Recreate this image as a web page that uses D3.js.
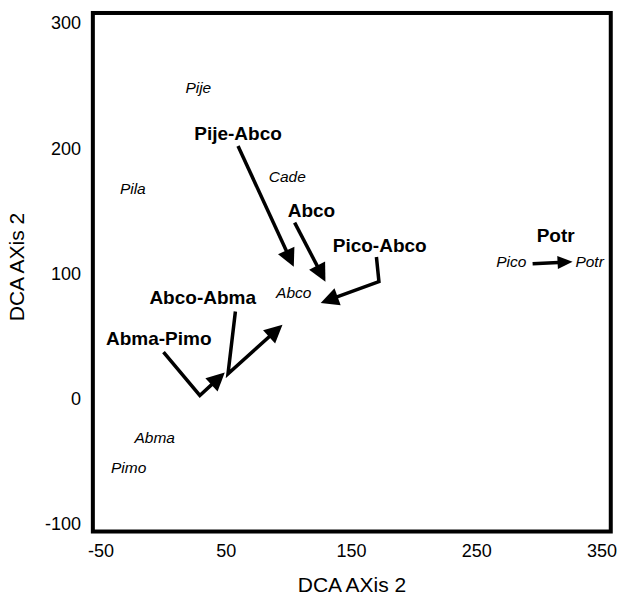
<!DOCTYPE html>
<html>
<head>
<meta charset="utf-8">
<script src="https://cdn.jsdelivr.net/npm/d3@7"></script>
<style>
  body { margin: 0; background: #fff; }
  text { font-family: "Liberation Sans", Arial, sans-serif; fill: #000; }
</style>
</head>
<body>
<svg id="chart"></svg>
<script>
var width = 617;
var height = 596;

// tick labels
var xTicks = [-50, 50, 150, 250, 350];
var yTicks = [-100, 0, 100, 200, 300];

// plot frame extent (data units)
var xFrame = [-56.5, 357];
var yFrame = [-106, 308];

// bold stand-type labels: name, x, y
var typeNames = ["Pije-Abco", "Abco", "Pico-Abco", "Potr", "Abco-Abma", "Abma-Pimo"];
var typeX = [59.4, 118, 172.5, 313, 31.2, -3.9];
var typeY = [206.6, 145.4, 117.2, 125.2, 75.7, 43];

// italic species labels
var speciesNames = ["Pije", "Cade", "Pila", "Abco", "Pico", "Potr", "Abma", "Pimo"];
var speciesX = [27.7, 98.7, -24.6, 103.9, 277.6, 340.1, -7.1, -27.9];
var speciesY = [244.1, 173.3, 163.5, 80.3, 105.5, 105.5, -35.2, -59.1];

// successional trajectories (last point is the arrow tip)
var arrowNames = ["Pije-Abco", "Abco", "Pico-Abco", "Abco-Abma", "Abma-Pimo", "Potr"];
var arrowPaths = [
    [[59.4, 201.8], [103.9, 105.3]],
    [[104.6, 140.6], [129.2, 93.5]],
    [[169.9, 113.2], [171.9, 93.5], [125.4, 76.5]],
    [[57.3, 69.6], [51.4, 19.9], [94.9, 59.0]],
    [[-0.1, 37.2], [28.9, 2.6], [48.8, 20.9]],
    [[294.6, 107.7], [326.5, 109.3]]
];

var x = d3.scaleLinear().domain([-50, 350]).range([101, 602]);
var y = d3.scaleLinear().domain([-100, 300]).range([524, 23]);

var svg = d3.select("#chart")
    .attr("width", width)
    .attr("height", height);

// frame
svg.append("rect")
    .attr("x", x(xFrame[0]))
    .attr("y", y(yFrame[1]))
    .attr("width", x(xFrame[1]) - x(xFrame[0]))
    .attr("height", y(yFrame[0]) - y(yFrame[1]))
    .attr("fill", "none")
    .attr("stroke", "#000")
    .attr("stroke-width", 4);

// x tick labels
svg.selectAll(".xtick")
    .data(xTicks)
    .enter().append("text")
    .attr("class", "xtick")
    .attr("x", function (d) { return x(d); })
    .attr("y", 557)
    .attr("text-anchor", "middle")
    .attr("font-size", "18px")
    .text(function (d) { return d; });

// y tick labels
svg.selectAll(".ytick")
    .data(yTicks)
    .enter().append("text")
    .attr("class", "ytick")
    .attr("x", 81)
    .attr("y", function (d) { return y(d); })
    .attr("dy", "0.35em")
    .attr("text-anchor", "end")
    .attr("font-size", "18px")
    .text(function (d) { return d; });

// axis titles
svg.append("text")
    .attr("x", 352)
    .attr("y", 592)
    .attr("text-anchor", "middle")
    .attr("font-size", "21px")
    .text("DCA AXis 2");

svg.append("text")
    .attr("transform", "translate(24,267) rotate(-90)")
    .attr("text-anchor", "middle")
    .attr("font-size", "21px")
    .text("DCA AXis 2");

// arrows
var line = d3.line()
    .x(function (d) { return d[0]; })
    .y(function (d) { return d[1]; });

arrowPaths.forEach(function (pts, i) {
    var px = pts.map(function (p) { return [x(p[0]), y(p[1])]; });
    var n = px.length;
    var tip = px[n - 1];
    var prev = px[n - 2];
    var dx = tip[0] - prev[0];
    var dy = tip[1] - prev[1];
    var len = Math.sqrt(dx * dx + dy * dy);
    var ux = dx / len, uy = dy / len;
    var headLen = arrowNames[i] === "Potr" ? 15 : 18;
    var headW = arrowNames[i] === "Potr" ? 13 : 18;
    var base = [tip[0] - ux * headLen, tip[1] - uy * headLen];
    var linePts = px.slice(0, n - 1).concat([[tip[0] - ux * headLen * 0.6, tip[1] - uy * headLen * 0.6]]);

    svg.append("path")
        .attr("class", "arrow")
        .attr("d", line(linePts))
        .attr("fill", "none")
        .attr("stroke", "#000")
        .attr("stroke-width", 3.5)
        .attr("stroke-linejoin", "miter");

    svg.append("path")
        .attr("class", "head")
        .attr("d", "M" + tip[0] + "," + tip[1] +
            "L" + (base[0] - uy * headW / 2) + "," + (base[1] + ux * headW / 2) +
            "L" + (base[0] + uy * headW / 2) + "," + (base[1] - ux * headW / 2) + "Z")
        .attr("fill", "#000");
});

// stand type labels
svg.selectAll(".type")
    .data(typeNames)
    .enter().append("text")
    .attr("class", "type")
    .attr("x", function (d, i) { return x(typeX[i]); })
    .attr("y", function (d, i) { return y(typeY[i]); })
    .attr("text-anchor", "middle")
    .attr("font-size", "19px")
    .attr("font-weight", "bold")
    .text(function (d) { return d; });

// species labels
svg.selectAll(".species")
    .data(speciesNames)
    .enter().append("text")
    .attr("class", "species")
    .attr("x", function (d, i) { return x(speciesX[i]); })
    .attr("y", function (d, i) { return y(speciesY[i]); })
    .attr("text-anchor", "middle")
    .attr("font-size", "15.5px")
    .attr("font-style", "italic")
    .text(function (d) { return d; });
</script>
</body>
</html>
